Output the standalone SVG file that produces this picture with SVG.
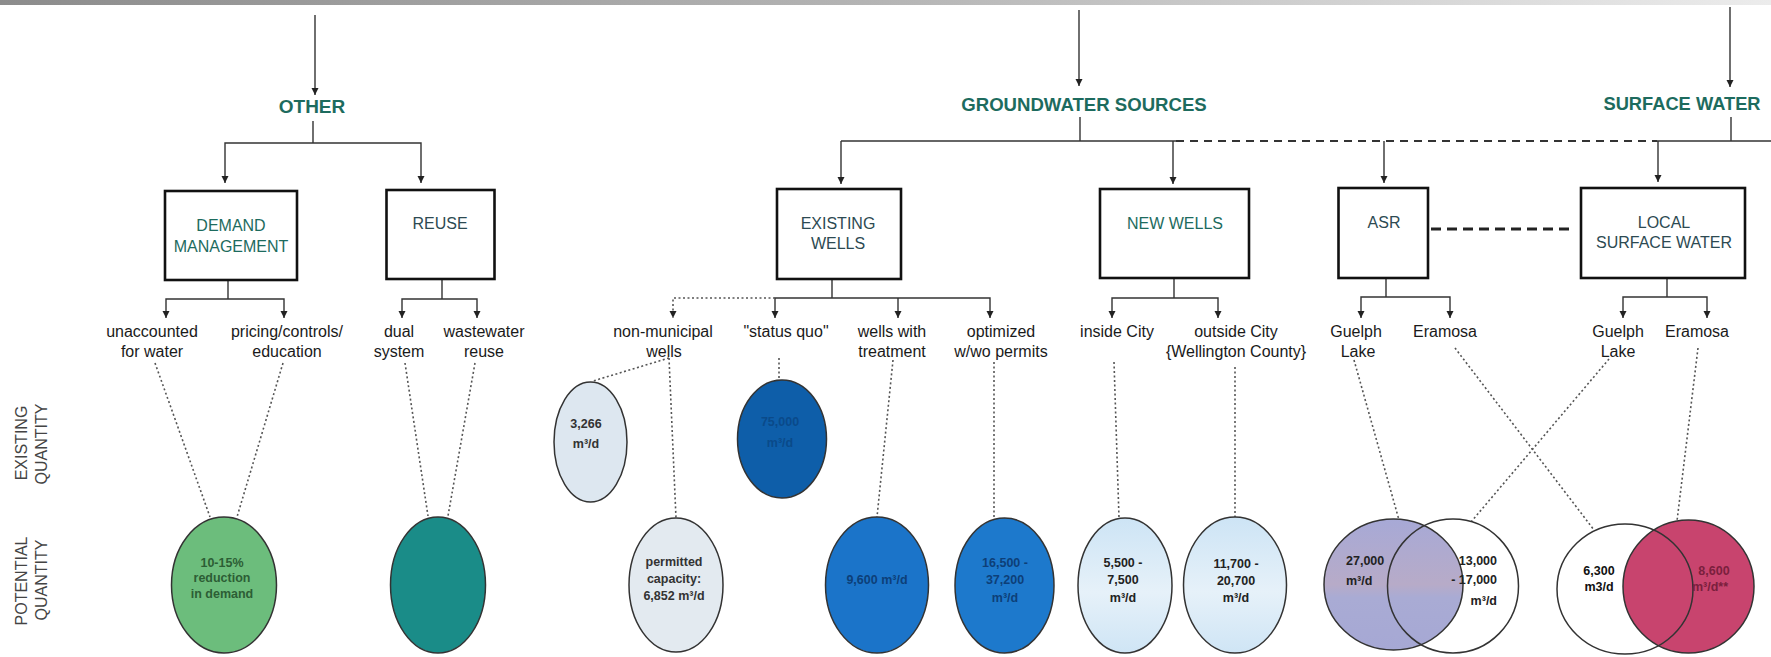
<svg xmlns="http://www.w3.org/2000/svg" width="1771" height="657" viewBox="0 0 1771 657">
<defs>
<linearGradient id="topbar" x1="0" y1="0" x2="1" y2="0">
<stop offset="0" stop-color="#8c8c8c"/><stop offset="0.5" stop-color="#b5b5b5"/><stop offset="1" stop-color="#ececec"/>
</linearGradient>
<linearGradient id="lav" x1="0" y1="0" x2="0" y2="1">
<stop offset="0" stop-color="#a7a9d6"/><stop offset="0.5" stop-color="#b7abc8"/><stop offset="0.6" stop-color="#a9abd4"/><stop offset="1" stop-color="#a6a8d4"/>
</linearGradient>
<linearGradient id="lblue" x1="0" y1="0" x2="0" y2="1">
<stop offset="0" stop-color="#cde4f5"/><stop offset="0.55" stop-color="#e6f1f9"/><stop offset="1" stop-color="#cfe5f5"/>
</linearGradient>
<marker id="ah" viewBox="0 0 8 8" markerWidth="7" markerHeight="8" refX="8" refY="4" orient="auto" markerUnits="userSpaceOnUse">
<path d="M0,0 L8,4 L0,8 z" fill="#222"/>
</marker>
<style>
.ln{fill:none;stroke:#333;stroke-width:1.4}
.dot{fill:none;stroke:#555;stroke-width:1.6;stroke-dasharray:2 2.5}
.dash{fill:none;stroke:#333;stroke-width:2;stroke-dasharray:8 6}
.box{fill:#fff;stroke:#111;stroke-width:2.6}
.title{font-family:"Liberation Sans",Arial,sans-serif;font-weight:bold;fill:#1d6b5e;text-anchor:middle}
.bg{font-family:"Liberation Sans",Arial,sans-serif;font-size:16px;fill:#1d6b5e;text-anchor:middle}
.bs{font-family:"Liberation Sans",Arial,sans-serif;font-size:16px;fill:#2d4a52;text-anchor:middle}
.lbl{font-family:"Liberation Sans",Arial,sans-serif;font-size:16px;fill:#1a1a1a;text-anchor:middle}
.axis{font-family:"Liberation Sans",Arial,sans-serif;font-size:16px;fill:#444;text-anchor:middle}
.val{font-family:"Liberation Sans",Arial,sans-serif;font-size:12.5px;font-weight:bold;text-anchor:middle}
.ell{stroke:#333;stroke-width:1.5}
</style>
</defs>
<rect x="0" y="0" width="1771" height="657" fill="#fff"/>
<rect x="0" y="0" width="1771" height="5" fill="url(#topbar)"/>

<g id="connectors">
<path class="ln" d="M315,15 V95" marker-end="url(#ah)"/>
<path class="ln" d="M313,121 V143"/>
<path class="ln" d="M313,143 H225 V183" marker-end="url(#ah)"/>
<path class="ln" d="M313,143 H421 V183" marker-end="url(#ah)"/>
<path class="ln" d="M1079,10 V86" marker-end="url(#ah)"/>
<path class="ln" d="M1080,117 V141"/>
<path class="ln" d="M1730,7 V87" marker-end="url(#ah)"/>
<path class="ln" d="M1731,117 V141"/>
<path class="ln" d="M841,141 H1176"/>
<path class="dash" d="M1176,141 H1657" style="stroke-width:1.8"/>
<path class="ln" d="M1657,141 H1771"/>
<path class="ln" d="M841,141 V184" marker-end="url(#ah)"/>
<path class="ln" d="M1173,141 V184" marker-end="url(#ah)"/>
<path class="ln" d="M1384,141 V183" marker-end="url(#ah)"/>
<path class="ln" d="M1658,141 V182" marker-end="url(#ah)"/>
<path class="ln" d="M228,280 V299"/>
<path class="ln" d="M228,299 H166 V318" marker-end="url(#ah)"/>
<path class="ln" d="M228,299 H284 V318" marker-end="url(#ah)"/>
<path class="ln" d="M442,279 V299"/>
<path class="ln" d="M442,299 H402 V318" marker-end="url(#ah)"/>
<path class="ln" d="M442,299 H477 V318" marker-end="url(#ah)"/>
<path class="ln" d="M832,279 V298"/>
<path class="ln" d="M832,298 H775 V318" marker-end="url(#ah)"/>
<path class="ln" d="M832,298 H990 V318" marker-end="url(#ah)"/>
<path class="ln" d="M898,298 V318" marker-end="url(#ah)"/>
<path class="dot" d="M775,298 H673 V318" marker-end="url(#ah)"/>
<path class="ln" d="M1174,278 V298"/>
<path class="ln" d="M1174,298 H1112 V318" marker-end="url(#ah)"/>
<path class="ln" d="M1174,298 H1218 V318" marker-end="url(#ah)"/>
<path class="ln" d="M1386,278 V297"/>
<path class="ln" d="M1386,297 H1361 V318" marker-end="url(#ah)"/>
<path class="ln" d="M1386,297 H1450 V318" marker-end="url(#ah)"/>
<path class="ln" d="M1667,278 V297"/>
<path class="ln" d="M1667,297 H1623 V318" marker-end="url(#ah)"/>
<path class="ln" d="M1667,297 H1707 V318" marker-end="url(#ah)"/>
<path class="dash" d="M1431,229 H1573" style="stroke-width:3;stroke:#222;stroke-dasharray:10 6"/>
<path class="dot" d="M155,363 L210,517"/>
<path class="dot" d="M283,363 L237,517"/>
<path class="dot" d="M405,363 L428,516"/>
<path class="dot" d="M475,363 L448,516"/>
<path class="dot" d="M669,358 L593,381"/>
<path class="dot" d="M669,358 L676,518"/>
<path class="dot" d="M779,358 V380"/>
<path class="dot" d="M893,360 L877,517"/>
<path class="dot" d="M994,362 V518"/>
<path class="dot" d="M1114,362 L1119,518"/>
<path class="dot" d="M1235,367 V517"/>
<path class="dot" d="M1354,360 L1399,520"/>
<path class="dot" d="M1455,348 L1594,530"/>
<path class="dot" d="M1609,359 L1471,522"/>
<path class="dot" d="M1698,348 L1677,521"/>
</g>

<g id="other"><text class="title" x="312" y="113" font-size="19">OTHER</text></g>
<g id="groundwater"><text class="title" x="1084" y="111" font-size="18.6">GROUNDWATER SOURCES</text></g>
<g id="surface-water"><text class="title" x="1682" y="110" font-size="18.3">SURFACE WATER</text></g>

<g id="demand-management"><rect class="box" x="165" y="191" width="132" height="89"/>
<text class="bg" x="231" y="231">DEMAND</text><text class="bg" x="231" y="252">MANAGEMENT</text></g>
<g id="reuse"><rect class="box" x="386.5" y="190" width="108" height="89"/>
<text class="bs" x="440" y="229">REUSE</text></g>
<g id="existing-wells"><rect class="box" x="777" y="189" width="124" height="90"/>
<text class="bs" x="838" y="229">EXISTING</text><text class="bs" x="838" y="249">WELLS</text></g>
<g id="new-wells"><rect class="box" x="1100" y="189" width="149" height="89"/>
<text class="bg" x="1175" y="229">NEW WELLS</text></g>
<g id="asr"><rect class="box" x="1338.5" y="188" width="89.5" height="90"/>
<text class="bs" x="1384" y="228">ASR</text></g>
<g id="local-surface-water"><rect class="box" x="1581" y="188" width="164" height="90"/>
<text class="bs" x="1664" y="228">LOCAL</text><text class="bs" x="1664" y="248">SURFACE WATER</text></g>

<g id="lbl-unaccounted"><text class="lbl" x="152" y="337">unaccounted</text><text class="lbl" x="152" y="357">for water</text></g>
<g id="lbl-pricing"><text class="lbl" x="287" y="337">pricing/controls/</text><text class="lbl" x="287" y="357">education</text></g>
<g id="lbl-dual"><text class="lbl" x="399" y="337">dual</text><text class="lbl" x="399" y="357">system</text></g>
<g id="lbl-wastewater"><text class="lbl" x="484" y="337">wastewater</text><text class="lbl" x="484" y="357">reuse</text></g>
<g id="lbl-nonmunicipal"><text class="lbl" x="663" y="337">non-municipal</text><text class="lbl" x="664" y="357">wells</text></g>
<g id="lbl-statusquo"><text class="lbl" x="786" y="337">"status quo"</text></g>
<g id="lbl-treatment"><text class="lbl" x="892" y="337">wells with</text><text class="lbl" x="892" y="357">treatment</text></g>
<g id="lbl-optimized"><text class="lbl" x="1001" y="337">optimized</text><text class="lbl" x="1001" y="357">w/wo permits</text></g>
<g id="lbl-inside"><text class="lbl" x="1117" y="337">inside City</text></g>
<g id="lbl-outside"><text class="lbl" x="1236" y="337">outside City</text><text class="lbl" x="1236" y="357">{Wellington County}</text></g>
<g id="lbl-asr-guelph"><text class="lbl" x="1356" y="337">Guelph</text><text class="lbl" x="1358" y="357">Lake</text></g>
<g id="lbl-asr-eramosa"><text class="lbl" x="1445" y="337">Eramosa</text></g>
<g id="lbl-lsw-guelph"><text class="lbl" x="1618" y="337">Guelph</text><text class="lbl" x="1618" y="357">Lake</text></g>
<g id="lbl-lsw-eramosa"><text class="lbl" x="1697" y="337">Eramosa</text></g>

<g id="axis-existing"><text class="axis" transform="translate(27,443) rotate(-90)">EXISTING</text><text class="axis" transform="translate(47,444) rotate(-90)">QUANTITY</text></g>
<g id="axis-potential"><text class="axis" transform="translate(27,581) rotate(-90)">POTENTIAL</text><text class="axis" transform="translate(47,580) rotate(-90)">QUANTITY</text></g>

<g id="ell-demand"><ellipse class="ell" cx="224" cy="585" rx="52.5" ry="68" fill="#6cbd7c"/>
<g class="val" fill="#2c5e35" font-size="11.5"><text class="val" x="222" y="567" font-size="11.5" fill="#2c5e35">10-15%</text><text class="val" x="222" y="582" font-size="11.5" fill="#2c5e35">reduction</text><text class="val" x="222" y="598" font-size="11.5" fill="#2c5e35">in demand</text></g></g>
<g id="ell-reuse"><ellipse class="ell" cx="438" cy="585" rx="47.5" ry="68" fill="#1a8c88"/></g>
<g id="ell-nonmun-exist"><ellipse class="ell" cx="590.5" cy="442" rx="36.5" ry="60" fill="#dde7f0"/>
<text class="val" x="586" y="428" fill="#333">3,266</text><text class="val" x="586" y="448" fill="#333">m³/d</text></g>
<g id="ell-statusquo"><ellipse class="ell" cx="782" cy="439" rx="44.5" ry="59" fill="#0e5ea9"/>
<text class="val" x="780" y="426" fill="#0a4a8a">75,000</text><text class="val" x="780" y="447" fill="#0a4a8a">m³/d</text></g>
<g id="ell-permitted"><ellipse class="ell" cx="676" cy="585" rx="47" ry="67" fill="#e3eaf0"/>
<text class="val" x="674" y="566" fill="#333">permitted</text><text class="val" x="674" y="583" fill="#333">capacity:</text><text class="val" x="674" y="600" fill="#333">6,852 m³/d</text></g>
<g id="ell-treatment"><ellipse class="ell" cx="877" cy="585" rx="51.5" ry="68" fill="#1b74c9"/>
<text class="val" x="877" y="584" fill="#0d3f78">9,600 m³/d</text></g>
<g id="ell-optimized"><ellipse class="ell" cx="1004.5" cy="585.5" rx="49.5" ry="67.5" fill="#1d79cc"/>
<text class="val" x="1005" y="567" fill="#0d3f78">16,500 -</text><text class="val" x="1005" y="584" fill="#0d3f78">37,200</text><text class="val" x="1005" y="602" fill="#0d3f78">m³/d</text></g>
<g id="ell-inside"><ellipse class="ell" cx="1125" cy="585.5" rx="47" ry="67.5" fill="url(#lblue)"/>
<text class="val" x="1123" y="567" fill="#222">5,500 -</text><text class="val" x="1123" y="584" fill="#222">7,500</text><text class="val" x="1123" y="602" fill="#222">m³/d</text></g>
<g id="ell-outside"><ellipse class="ell" cx="1235" cy="585" rx="51.5" ry="68" fill="url(#lblue)"/>
<text class="val" x="1236" y="568" fill="#222">11,700 -</text><text class="val" x="1236" y="585" fill="#222">20,700</text><text class="val" x="1236" y="602" fill="#222">m³/d</text></g>
<g id="venn-asr">
<ellipse cx="1453" cy="586" rx="65.5" ry="67" fill="#fff"/>
<ellipse class="ell" cx="1393.5" cy="584.5" rx="69.5" ry="65.5" fill="url(#lav)"/>
<ellipse class="ell" cx="1453" cy="586" rx="65.5" ry="67" fill="none"/>
<text class="val" x="1346" y="565" text-anchor="start" style="text-anchor:start" fill="#222">27,000</text>
<text class="val" x="1346" y="585" style="text-anchor:start" fill="#222">m³/d</text>
<text class="val" x="1497" y="565" style="text-anchor:end" fill="#222">13,000</text>
<text class="val" x="1497" y="584" style="text-anchor:end" fill="#222">- 17,000</text>
<text class="val" x="1497" y="605" style="text-anchor:end" fill="#222">m³/d</text>
</g>
<g id="venn-lsw">
<ellipse cx="1625" cy="589" rx="68" ry="65" fill="#fff"/>
<ellipse class="ell" cx="1688.5" cy="586.5" rx="65.5" ry="66.5" fill="#c8446e"/>
<ellipse class="ell" cx="1625" cy="589" rx="68" ry="65" fill="none"/>
<text class="val" x="1599" y="575" fill="#111">6,300</text><text class="val" x="1599" y="591" fill="#111">m3/d</text>
<text class="val" x="1714" y="575" fill="#7a1f3d">8,600</text><text class="val" x="1710" y="591" fill="#7a1f3d">m³/d**</text>
</g>
</svg>
